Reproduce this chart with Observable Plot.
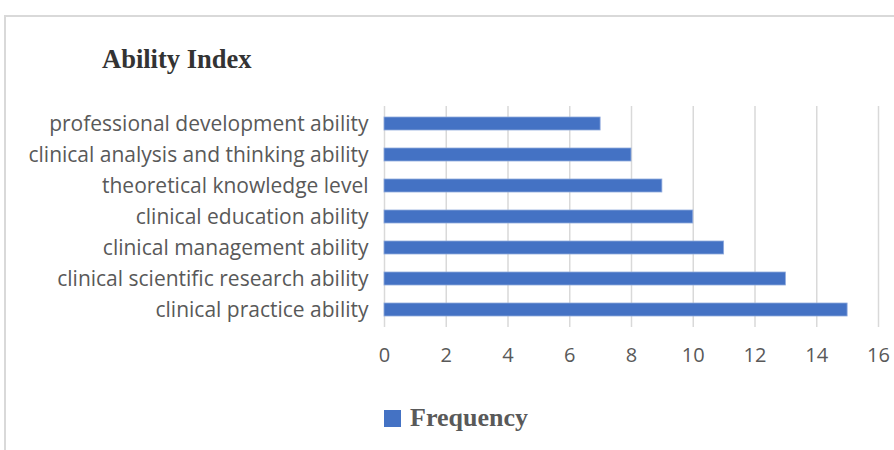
<!DOCTYPE html>
<html>
<head>
<meta charset="utf-8">
<script src="https://cdn.jsdelivr.net/npm/d3@7"></script>
<script src="https://cdn.jsdelivr.net/npm/@observablehq/plot@0.6"></script>
<style>
  html, body { margin: 0; padding: 0; background: #fff; }
  #wrap { position: relative; width: 894px; height: 450px; overflow: hidden; }
  #frame { position: absolute; left: 4px; top: 15px; width: 1000px; height: 1000px;
           border-top: 2px solid #d9d9d9; border-left: 2px solid #d9d9d9; }
  #title { position: absolute; left: 102px; top: 44px; font-family: "Liberation Serif", serif;
           font-weight: bold; font-size: 26.5px; color: #333; white-space: nowrap; }
  #chart { position: absolute; left: 0; top: 90px; }
  #legend { position: absolute; left: 384px; top: 403px; font-family: "Liberation Serif", serif;
            font-weight: bold; font-size: 26px; color: #595959; display: flex; align-items: center; white-space: nowrap; }
  #legend .sw { width: 17px; height: 17px; background: #4472C4; margin-right: 9px; }
</style>
</head>
<body>
<div id="wrap">
  <div id="frame"></div>
  <div id="title">Ability Index</div>
  <div id="chart"></div>
  <div id="legend"><span class="sw"></span><span>Frequency</span></div>
</div>
<script>
const categories = [
  "professional development ability",
  "clinical analysis and thinking ability",
  "theoretical knowledge level",
  "clinical education ability",
  "clinical management ability",
  "clinical scientific research ability",
  "clinical practice ability"
];
const frequency = [7, 8, 9, 10, 11, 13, 15];
const xTicks = [0, 2, 4, 6, 8, 10, 12, 14, 16];

const data = categories.map((c, i) => ({category: c, value: frequency[i]}));

const chart = Plot.plot({
  width: 894,
  height: 290,
  marginLeft: 384,
  marginRight: 16,
  marginTop: 16,
  marginBottom: 53,
  style: {fontFamily: "'Open Sans', sans-serif", fontSize: "21px", color: "#595959", background: "transparent"},
  x: {domain: [0, 16], ticks: xTicks},
  y: {domain: categories, paddingInner: 0.59, paddingOuter: 0.295},
  marks: [
    Plot.gridX(xTicks, {stroke: "#d9d9d9", strokeOpacity: 1, strokeWidth: 1.5}),
    Plot.barX(data, {x: "value", y: "category", fill: "#4472C4", stroke: "#8faadc", strokeWidth: 0.8}),
    Plot.axisX(xTicks, {tickSize: 0, tickPadding: 20, label: null, fill: "#595959", fontSize: 20}),
    Plot.axisY({tickSize: 0, tickPadding: 16, label: null, fill: "#595959", fontSize: 21})
  ]
});
document.getElementById("chart").appendChild(chart);
</script>
</body>
</html>
